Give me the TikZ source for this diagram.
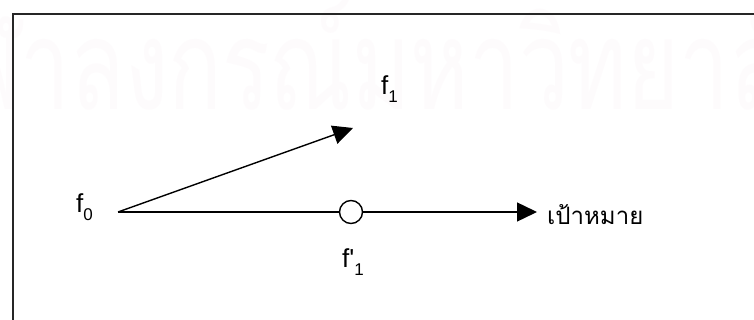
\documentclass[tikz,border=0pt]{standalone}
\usepackage{fontspec}
\newfontfamily\thaifont[Script=Thai]{Loma}
\newfontfamily\labfont{Liberation Sans}
\usetikzlibrary{arrows.meta}
\definecolor{wmpink}{RGB}{249,236,243}
\newcommand\lsub[1]{\raisebox{-8pt}{\fontsize{17}{17}\selectfont #1}}
\tikzset{
  lab/.style={inner sep=0pt, anchor=base west, font=\labfont\fontsize{26}{26}\selectfont},
  conn/.style={line width=1.4pt, -{Triangle[length=20pt,width=19pt]}},
  frame/.style={line width=1.8pt, draw=black!85}
}
\begin{document}
\begin{tikzpicture}[x=1pt,y=-1pt]
\useasboundingbox (0,0) rectangle (754,320);
\begin{scope}
\clip (0,0) rectangle (754,320);
\node[inner sep=0pt, anchor=base west, text=wmpink, xscale=0.71] (wm) at (-92,110)
  {\thaifont\fontsize{125}{125}\selectfont จุฬาลงกรณ์มหาวิทยาลัย};
\fill[white, fill opacity=0.8] (0,0) rectangle (754,130);
\end{scope}
\draw[frame] (13,330) -- (13,14) -- (760,14);
\coordinate (o) at (118,212);
\coordinate (t1) at (353,128);
\coordinate (t2) at (537,212);
\node[circle, draw, line width=1.4pt, fill=white, minimum size=23pt, inner sep=0pt] (c) at (351,212) {};
\draw[line width=1.4pt] (o) -- (c.west);
\draw[conn] (c.east) -- (t2);
\draw[conn] (o) -- (t1);
\node[lab] (f0) at (76,213) {f\lsub{0}};
\node[lab] (f1) at (381,95) {f\lsub{1}};
\node[lab] (f1p) at (342,267) {f'\lsub{1}};
\node[inner sep=0pt, anchor=base west, font=\thaifont\fontsize{24}{24}\selectfont] (goal) at (547,225) {เป้าหมาย};
\end{tikzpicture}
\end{document}
